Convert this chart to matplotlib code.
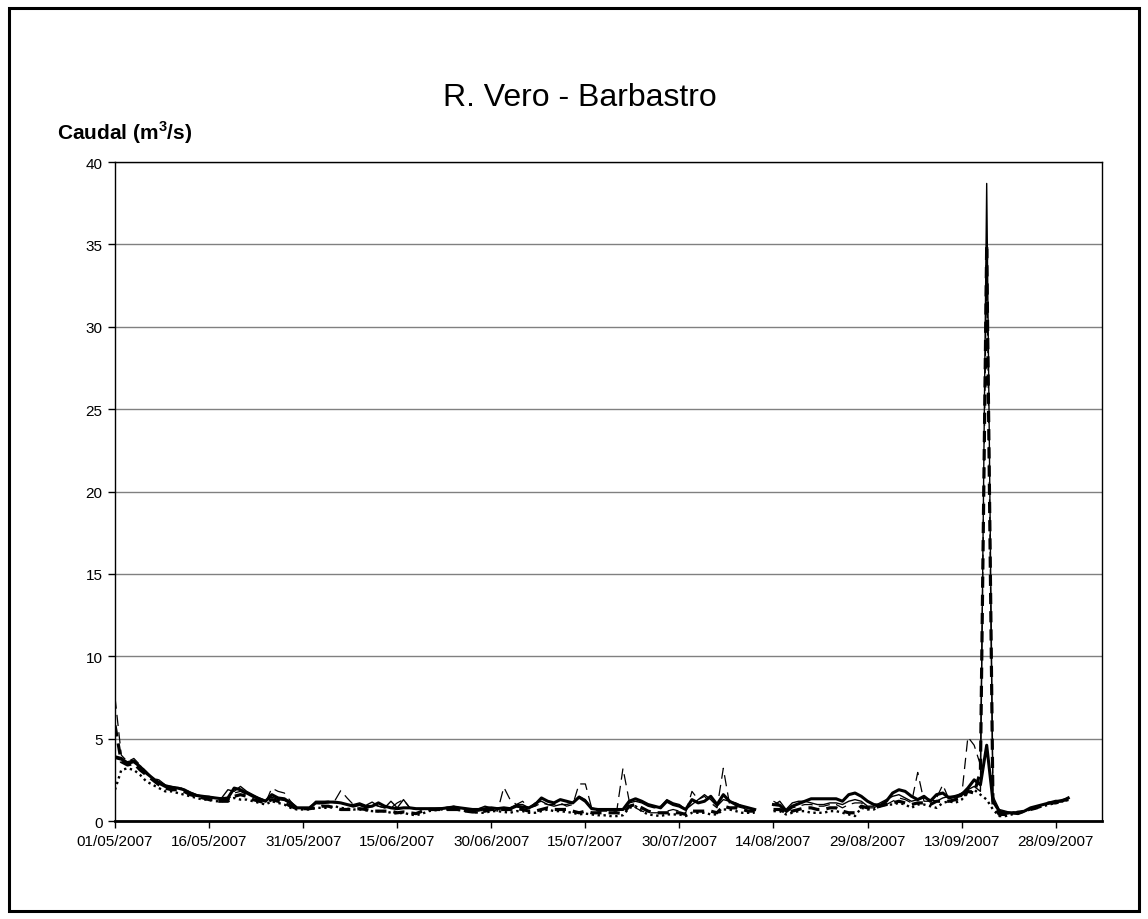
import numpy as np
import pandas as pd
import matplotlib
matplotlib.use("Agg")
import matplotlib.pyplot as plt
import matplotlib.dates as mdates
from matplotlib.patches import Rectangle

nan = np.nan

# daily flow (m3/s), 01/05/2007 - 30/09/2007
serie_a_may = [3.9, 3.8, 3.5, 3.6, 3.3, 2.9, 2.6, 2.3, 2.1, 2.05, 2.0, 1.9, 1.7, 1.55, 1.5, 1.45, 1.4, 1.35, 1.4, 2.0, 1.9, 1.7, 1.5, 1.35, 1.2, 1.6, 1.4, 1.35, 1.1, 0.8, 0.8]
serie_a_jun = [0.8, 1.1, 1.1, 1.15, 1.15, 1.1, 1.0, 0.9, 1.0, 0.85, 0.9, 1.1, 0.9, 0.8, 0.75, 0.8, 0.8, 0.75, 0.75, 0.75, 0.75, 0.75, 0.8, 0.85, 0.8, 0.75, 0.7, 0.7, 0.75, 0.8]
serie_a_jul = [0.75, 0.8, 0.75, 0.9, 0.85, 0.8, 1.0, 1.4, 1.2, 1.1, 1.3, 1.2, 1.1, 1.45, 1.2, 0.75, 0.7, 0.7, 0.7, 0.7, 0.7, 1.2, 1.35, 1.2, 1.0, 0.9, 0.8, 1.2, 1.0, 0.9, 0.7]
serie_a_aug = [1.3, 1.1, 1.2, 1.5, 1.0, 1.6, 1.2, 1.0, 0.9, 0.8, 0.7, nan, nan, 1.0, 0.95, 0.6, 0.9, 1.05, 1.2, 1.35, 1.35, 1.35, 1.35, 1.35, 1.2, 1.6, 1.7, 1.5, 1.2, 1.0, 0.95]
serie_a_sep = [1.2, 1.7, 1.9, 1.8, 1.5, 1.3, 1.5, 1.2, 1.6, 1.7, 1.4, 1.5, 1.6, 2.0, 2.5, 2.2, 4.6, 1.2, 0.6, 0.5, 0.5, 0.45, 0.6, 0.8, 0.9, 1.0, 1.1, 1.2, 1.2, 1.4]

serie_b_may = [3.8, 3.7, 3.6, 3.7, 3.3, 3.0, 2.6, 2.4, 2.2, 2.1, 2.0, 1.9, 1.75, 1.6, 1.5, 1.45, 1.4, 1.4, 1.9, 1.8, 2.1, 1.8, 1.6, 1.4, 1.25, 1.45, 1.3, 1.25, 1.05, 0.8, 0.8]
serie_b_jun = [0.8, 1.2, 1.2, 1.2, 1.1, 1.1, 1.0, 1.0, 1.1, 0.95, 1.15, 0.9, 0.8, 1.2, 0.8, 1.3, 0.8, 0.75, 0.75, 0.75, 0.75, 0.8, 0.8, 0.9, 0.8, 0.75, 0.7, 0.75, 0.9, 0.8]
serie_b_jul = [0.8, 0.75, 0.8, 1.0, 1.0, 0.8, 1.1, 1.2, 1.0, 0.9, 1.0, 1.0, 1.1, 1.5, 1.3, 0.8, 0.7, 0.7, 0.7, 0.7, 0.7, 1.1, 1.2, 1.1, 0.9, 0.8, 0.9, 1.3, 1.1, 1.0, 0.7]
serie_b_aug = [1.0, 1.3, 1.6, 1.3, 0.9, 1.3, 1.2, 1.1, 0.9, 0.8, 0.7, nan, nan, 0.95, 1.2, 0.7, 1.1, 1.2, 1.2, 1.1, 1.0, 1.0, 1.1, 1.1, 1.0, 1.2, 1.3, 1.2, 0.9, 0.9, 1.1]
serie_b_sep = [1.3, 1.5, 1.6, 1.4, 1.2, 1.3, 1.4, 1.3, 1.2, 1.4, 1.5, 1.5, 1.7, 1.9, 2.1, 1.8, 38.7, 1.5, 0.7, 0.6, 0.5, 0.5, 0.6, 0.7, 0.9, 1.0, 1.1, 1.2, 1.3, 1.4]

serie_c_may = [7.5, 4.0, 3.6, 3.8, 3.4, 3.0, 2.6, 2.5, 2.2, 2.0, 2.0, 2.0, 1.7, 1.5, 1.5, 1.5, 1.4, 1.3, 1.3, 1.7, 1.8, 1.6, 1.5, 1.3, 1.1, 2.0, 1.8, 1.7, 1.2, 0.8, 0.75]
serie_c_jun = [0.8, 1.0, 1.1, 1.1, 1.2, 1.85, 1.4, 1.0, 1.0, 0.9, 1.0, 0.9, 0.8, 0.8, 1.1, 1.3, 0.8, 0.7, 0.7, 0.75, 0.7, 0.75, 0.85, 0.8, 0.8, 0.7, 0.6, 0.6, 0.7, 0.7]
serie_c_jul = [0.6, 2.05, 1.3, 1.0, 1.2, 0.8, 0.9, 1.1, 1.0, 1.0, 1.1, 0.9, 1.0, 2.25, 2.25, 0.8, 0.6, 0.6, 0.6, 0.6, 3.2, 1.2, 0.8, 0.6, 0.5, 0.5, 0.5, 0.6, 0.7, 0.6, 0.5]
serie_c_aug = [1.8, 1.3, 1.5, 1.1, 0.8, 3.2, 1.0, 0.9, 0.8, 0.7, 0.6, nan, nan, 1.2, 1.0, 0.5, 0.8, 0.9, 1.0, 1.0, 0.9, 0.9, 1.0, 1.0, 0.8, 1.0, 1.1, 1.1, 0.8, 0.8, 1.0]
serie_c_sep = [1.0, 1.2, 1.4, 1.3, 1.1, 2.95, 1.2, 1.2, 1.4, 2.2, 1.3, 1.4, 1.5, 5.1, 4.6, 3.4, 34.5, 1.2, 0.5, 0.4, 0.5, 0.6, 0.6, 0.7, 0.8, 1.0, 1.1, 1.1, 1.2, 1.3]

serie_d_may = [5.8, 3.6, 3.4, 3.5, 3.1, 2.8, 2.5, 2.2, 2.0, 1.9, 1.9, 1.8, 1.6, 1.5, 1.4, 1.3, 1.2, 1.2, 1.2, 1.5, 1.6, 1.5, 1.3, 1.2, 1.1, 1.3, 1.2, 1.1, 0.9, 0.75, 0.75]
serie_d_jun = [0.75, 0.8, 0.9, 0.9, 0.8, 0.7, 0.7, 0.7, 0.75, 0.7, 0.6, 0.6, 0.6, 0.6, 0.5, 0.55, 0.5, 0.45, 0.6, 0.7, 0.7, 0.7, 0.7, 0.7, 0.7, 0.6, 0.55, 0.55, 0.6, 0.7]
serie_d_jul = [0.7, 0.7, 0.7, 0.75, 0.7, 0.6, 0.6, 0.7, 0.8, 0.7, 0.7, 0.7, 0.6, 0.5, 0.6, 0.5, 0.5, 0.5, 0.5, 0.5, 0.45, 0.9, 1.0, 0.8, 0.6, 0.5, 0.5, 0.5, 0.5, 0.5, 0.4]
serie_d_aug = [0.6, 0.6, 0.6, 0.6, 0.5, 0.9, 0.8, 0.8, 0.7, 0.6, 0.6, nan, nan, 0.7, 0.7, 0.5, 0.6, 0.7, 0.8, 0.8, 0.7, 0.7, 0.8, 0.8, 0.6, 0.5, 0.5, 0.9, 0.8, 0.8, 0.9]
serie_d_sep = [1.0, 1.1, 1.2, 1.1, 1.0, 1.1, 1.1, 1.0, 1.2, 1.2, 1.2, 1.3, 1.4, 1.8, 1.7, 3.0, 35.0, 1.0, 0.4, 0.4, 0.5, 0.5, 0.6, 0.7, 0.8, 1.0, 1.1, 1.1, 1.2, 1.3]

serie_e_may = [1.9, 3.1, 3.2, 3.1, 2.8, 2.4, 2.2, 2.0, 1.8, 1.8, 1.7, 1.6, 1.5, 1.4, 1.3, 1.3, 1.2, 1.2, 1.3, 1.4, 1.3, 1.3, 1.2, 1.1, 1.0, 1.2, 1.1, 1.0, 0.8, 0.7, 0.7]
serie_e_jun = [0.7, 0.8, 0.8, 0.8, 0.9, 0.8, 0.75, 0.7, 0.7, 0.65, 0.6, 0.6, 0.6, 0.5, 0.45, 0.5, 0.4, 0.35, 0.45, 0.6, 0.65, 0.7, 0.7, 0.7, 0.65, 0.6, 0.55, 0.5, 0.5, 0.6]
serie_e_jul = [0.6, 0.55, 0.5, 0.6, 0.6, 0.5, 0.5, 0.6, 0.7, 0.6, 0.6, 0.55, 0.5, 0.4, 0.45, 0.4, 0.35, 0.35, 0.3, 0.3, 0.35, 0.8, 0.9, 0.6, 0.4, 0.35, 0.3, 0.4, 0.4, 0.4, 0.3]
serie_e_aug = [0.5, 0.5, 0.5, 0.4, 0.4, 0.7, 0.7, 0.6, 0.5, 0.5, 0.5, nan, nan, 0.6, 0.6, 0.4, 0.5, 0.6, 0.6, 0.5, 0.5, 0.5, 0.6, 0.6, 0.5, 0.4, 0.3, 0.8, 0.7, 0.7, 0.9]
serie_e_sep = [1.0, 1.0, 1.1, 1.0, 0.8, 1.0, 1.0, 0.9, 0.8, 1.1, 1.2, 1.1, 1.3, 1.7, 1.9, 1.6, 1.3, 0.7, 0.3, 0.3, 0.4, 0.5, 0.6, 0.7, 0.8, 0.9, 1.0, 1.1, 1.2, 1.3]

fechas = pd.date_range("2007-05-01", "2007-09-30", freq="D")

serie_a = serie_a_may + serie_a_jun + serie_a_jul + serie_a_aug + serie_a_sep
serie_b = serie_b_may + serie_b_jun + serie_b_jul + serie_b_aug + serie_b_sep
serie_c = serie_c_may + serie_c_jun + serie_c_jul + serie_c_aug + serie_c_sep
serie_d = serie_d_may + serie_d_jun + serie_d_jul + serie_d_aug + serie_d_sep
serie_e = serie_e_may + serie_e_jun + serie_e_jul + serie_e_aug + serie_e_sep

plt.rcParams['font.family'] = ['Liberation Sans', 'DejaVu Sans']
plt.rcParams['mathtext.fontset'] = 'custom'
plt.rcParams['mathtext.rm'] = 'Liberation Sans'
plt.rcParams['mathtext.bf'] = 'Liberation Sans:bold'

fig = plt.figure(figsize=(11.48, 9.2), dpi=100)
ax = fig.add_axes([0.1002, 0.1065, 0.8598, 0.7163])

# outer chart border
fig.patches.append(Rectangle((0.008, 0.009), 0.984, 0.981, transform=fig.transFigure,
                             fill=False, edgecolor='black', linewidth=2.2))

ax.plot(fechas, serie_e, color='black', lw=1.7, ls=(0, (1, 1.5)), zorder=3)
ax.plot(fechas, serie_d, color='black', lw=2.3, ls=(0, (3.5, 2.2)), zorder=4)
ax.plot(fechas, serie_c, color='black', lw=0.9, ls=(0, (9, 5)), zorder=5)
ax.plot(fechas, serie_b, color='black', lw=1.0, zorder=6)
ax.plot(fechas, serie_a, color='black', lw=2.2, zorder=7)

inicio = pd.Timestamp("2007-05-01")
ax.set_xlim(inicio, inicio + pd.Timedelta(days=157.4))
ax.set_ylim(0, 40)
ax.set_yticks(range(0, 41, 5))
ax.set_xticks(pd.date_range(inicio, periods=11, freq="15D"))
ax.xaxis.set_major_formatter(mdates.DateFormatter("%d/%m/%Y"))

ax.yaxis.grid(True, color='#808080', lw=1)
ax.set_axisbelow(True)
for s in ['top', 'right', 'left']:
    ax.spines[s].set_linewidth(1.0)
ax.spines['bottom'].set_linewidth(2.0)
ax.tick_params(axis='both', direction='out', length=5, width=1, labelsize=11, pad=4)
ax.tick_params(axis='x', labelsize=11)

fig.text(0.505, 0.894, "R. Vero - Barbastro", ha='center', va='center', fontsize=23)
fig.text(0.050, 0.856, r"Caudal (m$^{\mathbf{3}}$/s)", ha='left', va='center',
         fontsize=15, fontweight='bold')

fig.savefig("out.png", dpi=100)
